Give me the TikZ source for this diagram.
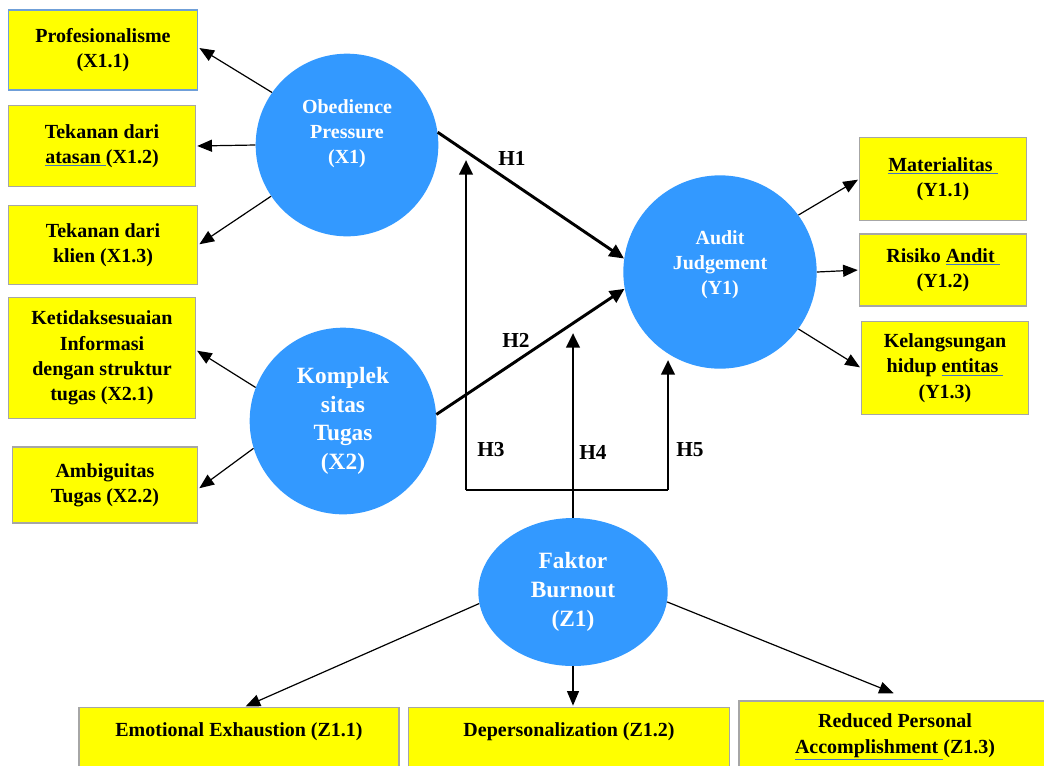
\documentclass[tikz,border=0pt]{standalone}
\usepackage{fontspec}
\setmainfont{Liberation Serif}
\usetikzlibrary{arrows.meta, shapes.geometric, calc}
\definecolor{cblue}{HTML}{3399FF}
\definecolor{cyellow}{HTML}{FFFF00}
\definecolor{cframe}{HTML}{A6A6A6}
\definecolor{cedge}{HTML}{6F9FD8}
\definecolor{cspell}{HTML}{4472C4}
\newcommand{\spell}[1]{\textcolor{cspell}{\underline{\textcolor{black}{#1}}}}
\tikzset{
  every picture/.style={font=\bfseries\fontsize{15}{19}\selectfont},
  indik/.style={draw=#1, fill=cyellow, line width=0.9pt, align=center, inner sep=2pt},
  indik/.default=cframe,
  laten/.style={circle, fill=cblue, text=white, align=center, inner sep=0pt},
  bigtext/.style={font=\bfseries\fontsize{17.5}{21.5}\selectfont},
  load/.style={-{Triangle[length=11pt,width=9pt]}, line width=0.9pt, shorten >=1pt},
  hyp/.style={line width=2.2pt},
  hyparr/.style={hyp, -{Triangle[length=11pt,width=10pt]}},
  hlabel/.style={font=\bfseries\fontsize{16}{18}\selectfont},
}

\begin{document}
\begin{tikzpicture}[x=0.75pt, y=-0.75pt]
  \useasboundingbox (0,0) rectangle (1044,765);
  \clip (0,0) rectangle (1044,765);
  % latent variables
  \node[laten, minimum size=137pt, text depth=20pt] (x1) at (347,145) {Obedience\\Pressure\\(X1)};
  \node[laten, bigtext, minimum size=140pt] (x2) at (343,421) {Komplek\\sitas\\Tugas\\(X2)};
  \node[laten, minimum size=145pt, text depth=14pt] (y1) at (720,272) {Audit\\Judgement\\(Y1)};
  \node[laten, bigtext, ellipse, minimum width=142pt, minimum height=111pt] (z1) at (573,592) {Faktor\\Burnout\\(Z1)};
  % indicators of X1 and X2
  \node[indik=cedge, minimum width=142pt, minimum height=60pt] (x11) at (103,50) {Profesionalisme\\(X1.1)};
  \node[indik, minimum width=140pt, minimum height=61pt] (x12) at (102,146) {Tekanan dari\\\spell{atasan\ }(X1.2)};
  \node[indik, minimum width=142pt, minimum height=59pt] (x13) at (103,245) {Tekanan dari\\klien (X1.3)};
  \node[indik, minimum width=140pt, minimum height=91pt] (x21) at (102,358) {Ketidaksesuaian\\Informasi\\dengan struktur\\tugas (X2.1)};
  \node[indik, minimum width=139pt, minimum height=57pt] (x22) at (105,485) {Ambiguitas\\Tugas (X2.2)};
  % indicators of Y1
  \node[indik, minimum width=125pt, minimum height=62pt] (y11) at (943,179) {\spell{Materialitas\ }\\(Y1.1)};
  \node[indik, minimum width=125pt, minimum height=54pt] (y12) at (943,270) {Risiko \spell{Andit\ }\\(Y1.2)};
  \node[indik, minimum width=125pt, minimum height=70pt] (y13) at (945,368) {Kelangsungan\\hidup \spell{entitas\ }\\(Y1.3)};
  % indicators of Z1
  \node[indik, anchor=north, minimum width=240pt, inner ysep=10pt, text height=12pt, text depth=40pt] (z11) at (239,707) {Emotional Exhaustion (Z1.1)};
  \node[indik, anchor=north, minimum width=241pt, inner ysep=10pt, text height=12pt, text depth=40pt] (z12) at (569,707) {Depersonalization (Z1.2)};
  \node[indik, minimum width=234pt, minimum height=54pt] (z13) at (895,737) {Reduced Personal\\\spell{Accomplishment\ }(Z1.3)};
  % loadings
  \draw[load] (x1.145) -- ([yshift=2pt]x11.east);
  \draw[load] (x1.west) -- (x12.east);
  \draw[load] (x1.214) -- (x13.east);
  \draw[load] (x2.159) -- ([yshift=6pt]x21.east);
  \draw[load] (x2.197) -- ([yshift=-3pt]x22.east);
  \draw[load] (y1.36) -- (y11.west);
  \draw[load] (y1.east) -- (y12.west);
  \draw[load] (y1.-36) -- (y13.west);
  \draw[load] (z1.187) -- ([xshift=4pt]z11.north);
  \draw[load] (z1.south) -- (z1.south |- z12.north);
  \draw[load] (z1.-6) -- ([yshift=5pt]z13.north);
  % hypotheses
  \draw[hyparr] (x1.8) -- (y1.172);
  \draw[hyparr] (x2.4) -- (y1.190);
  \coordinate (hub) at (573,490);
  \coordinate (h3) at (466,490);
  \coordinate (h5) at (668,490);
  \coordinate (t3) at (466,160);
  \coordinate (t4) at (573,333);
  \coordinate (t5) at (668,360);
  \draw[hyp] (h3) -- (h5);
  \draw[hyparr] (h3) -- (t3);
  \draw[hyparr] (z1.north) -- (t4);
  \draw[hyparr] (h5) -- (t5);
  \node[hlabel] (lh1) at (512,158) {H1};
  \node[hlabel] (lh2) at (516,340) {H2};
  \node[hlabel] (lh3) at (491,450) {H3};
  \node[hlabel] (lh4) at (593,452) {H4};
  \node[hlabel] (lh5) at (690,450) {H5};
\end{tikzpicture}
\end{document}
